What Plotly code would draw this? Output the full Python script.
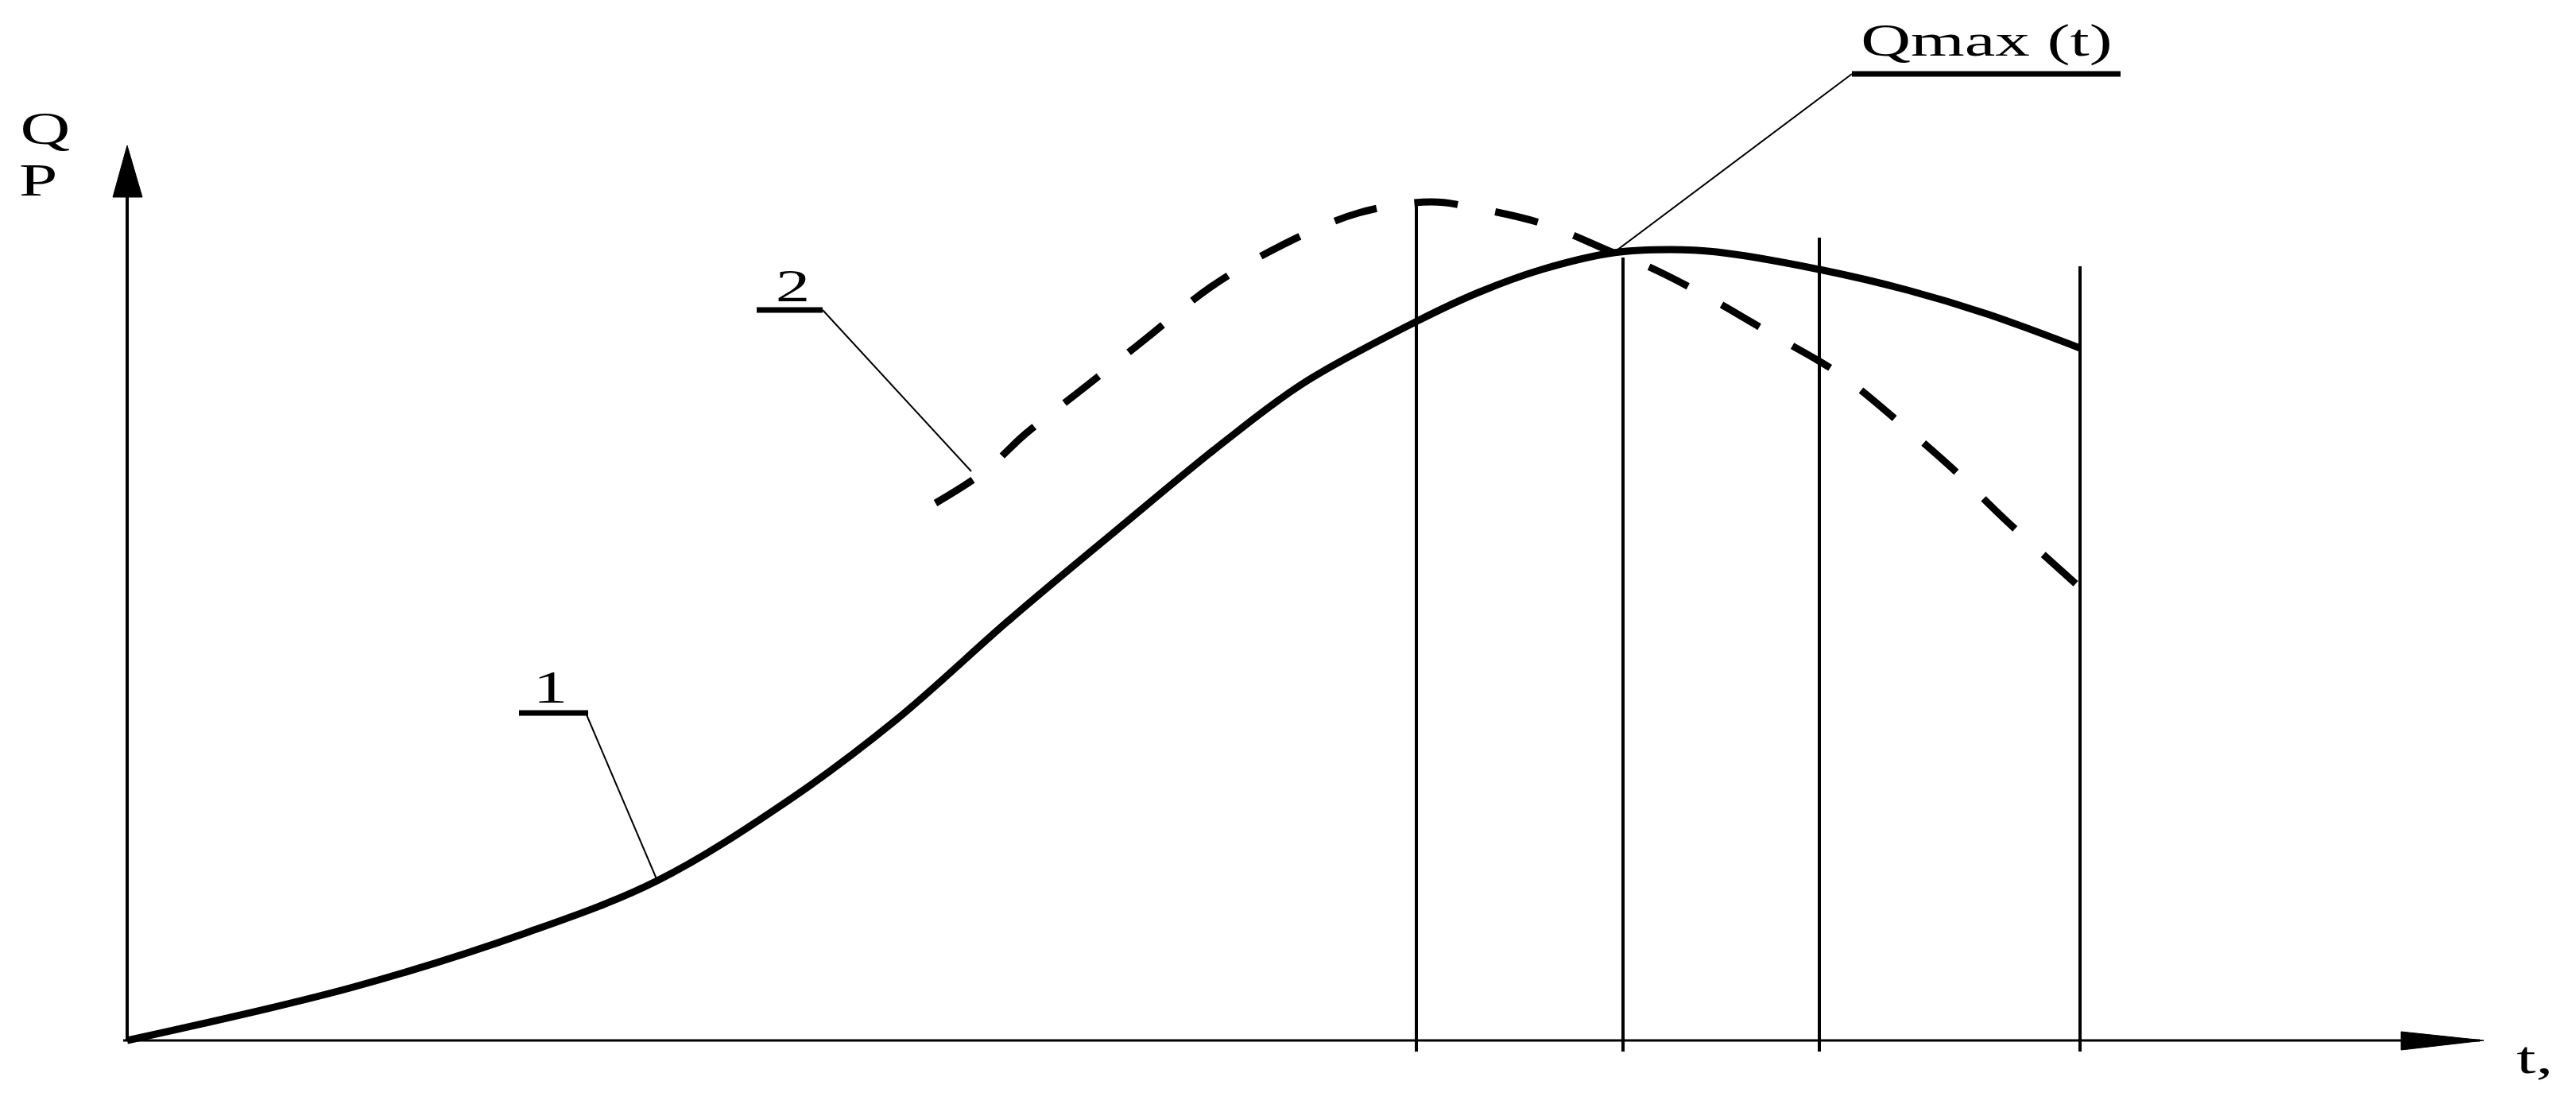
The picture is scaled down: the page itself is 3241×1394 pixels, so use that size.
import plotly.graph_objects as go

# curve 1 (solid) and curve 2 (dashed), time vs Q/P in arbitrary units
t_curve1 = [0, 2.84, 5.01, 6.67, 8.32, 9.67, 11.11, 12.46, 13.80, 14.80, 16.23,
            17.00, 17.80, 18.70, 19.40, 20.00, 21.29, 22.40, 23.40, 24.57]
q_curve1 = [0, 0.67, 1.35, 2.01, 3.02, 4.03, 5.30, 6.43, 7.53, 8.27, 9.05,
            9.41, 9.70, 9.91, 9.95, 9.92, 9.70, 9.44, 9.14, 8.71]

t_curve2 = [10.17, 10.79, 11.30, 12.05, 12.83, 13.62, 14.46, 15.49, 16.40, 16.98,
            17.83, 18.70, 19.13, 19.84, 20.70, 21.55, 22.28, 22.96, 23.63, 24.60]
q_curve2 = [6.76, 7.16, 7.63, 8.22, 8.84, 9.47, 9.97, 10.41, 10.55, 10.47,
            10.27, 9.91, 9.74, 9.38, 8.88, 8.38, 7.79, 7.20, 6.55, 5.67]

# vertical marker lines: position and top value
t_marks = [16.22, 18.82, 21.29, 24.57]
q_marks_top = [10.55, 9.85, 10.10, 9.74]

FONT = "Liberation Serif"
BLACK = "#000000"

fig = go.Figure()
fig.add_trace(go.Scatter(x=t_curve1, y=q_curve1, mode="lines", line_shape="spline",
                         line=dict(color=BLACK, width=9), hoverinfo="skip"))
fig.add_trace(go.Scatter(x=t_curve2, y=q_curve2, mode="lines", line_shape="spline",
                         line=dict(color=BLACK, width=9, dash="55px,48px"), hoverinfo="skip"))

shapes = []
# axes
shapes.append(dict(type="line", x0=-0.05, y0=0, x1=29.6, y1=0, line=dict(color=BLACK, width=3)))
shapes.append(dict(type="line", x0=0, y0=0, x1=0, y1=11.2, line=dict(color=BLACK, width=4)))
# arrow heads
shapes.append(dict(type="path", path="M 0,11.26 L -0.18,10.61 L 0.19,10.61 Z",
                   fillcolor=BLACK, line=dict(color=BLACK, width=1)))
shapes.append(dict(type="path", path="M 29.65,0 L 28.61,0.11 L 28.61,-0.12 Z",
                   fillcolor=BLACK, line=dict(color=BLACK, width=1)))
# vertical lines
for t, top in zip(t_marks, q_marks_top):
    shapes.append(dict(type="line", x0=t, y0=-0.14, x1=t, y1=top, line=dict(color=BLACK, width=4)))
# label underlines and leaders
shapes.append(dict(type="line", x0=21.70, y0=12.16, x1=25.08, y1=12.16, line=dict(color=BLACK, width=7)))
shapes.append(dict(type="line", x0=21.70, y0=12.16, x1=18.70, y1=9.91, line=dict(color=BLACK, width=2)))
shapes.append(dict(type="line", x0=4.93, y0=4.12, x1=5.80, y1=4.12, line=dict(color=BLACK, width=7)))
shapes.append(dict(type="line", x0=5.77, y0=4.12, x1=6.67, y1=2.01, line=dict(color=BLACK, width=2)))
shapes.append(dict(type="line", x0=7.92, y0=9.19, x1=8.75, y1=9.19, line=dict(color=BLACK, width=7)))
shapes.append(dict(type="line", x0=8.75, y0=9.19, x1=10.62, y1=7.16, line=dict(color=BLACK, width=2)))

def label(text, x, y):
    return dict(text=text, x=x, y=y, xref="x", yref="y", showarrow=False,
                xanchor="center", yanchor="middle",
                font=dict(family=FONT, size=58, color=BLACK))

annotations = [
    label("Q", -1.03, 11.48),
    label("P", -1.12, 10.83),
    label("Qmax (t)", 23.39, 12.59),
    label("1", 5.32, 4.45),
    label("2", 8.37, 9.50),
    label("t,", 30.29, -0.21),
]

fig.update_layout(width=3241, height=1394, margin=dict(l=0, r=0, t=0, b=0),
                  paper_bgcolor="white", plot_bgcolor="white", showlegend=False,
                  xaxis=dict(range=[-1.60, 30.81], visible=False, fixedrange=True),
                  yaxis=dict(range=[-0.85, 13.09], visible=False, fixedrange=True),
                  shapes=shapes, annotations=annotations)

# the drawing's lettering is wide, so stretch the text horizontally
post = """
document.body.style.margin = '0';
var gd = document.getElementById('{plot_id}');
gd.querySelectorAll('text.annotation-text').forEach(function(t){
  var w = t.getComputedTextLength();
  t.setAttribute('textLength', w * 1.5);
  t.setAttribute('lengthAdjust', 'spacingAndGlyphs');
});
"""
fig.write_html("out.html", post_script=post, config={"displayModeBar": False})
